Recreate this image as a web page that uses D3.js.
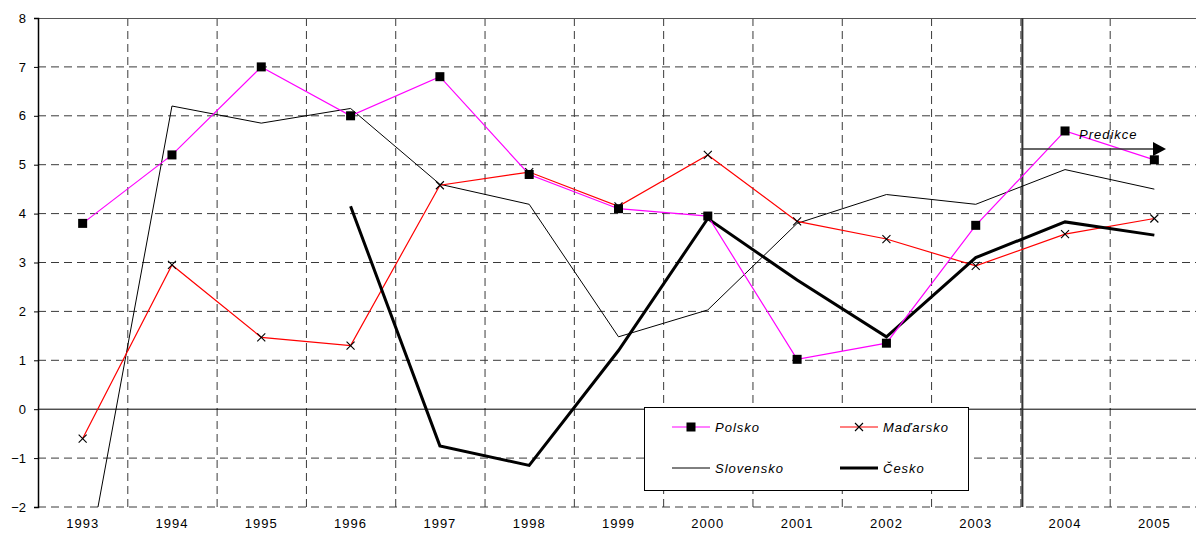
<!DOCTYPE html>
<html>
<head>
<meta charset="utf-8">
<script src="https://cdn.jsdelivr.net/npm/d3@7/dist/d3.min.js"></script>
<style>
  html, body { margin: 0; padding: 0; background: #fff; }
  svg { display: block; font-family: "Liberation Sans", Arial, sans-serif; }
</style>
</head>
<body>
<div id="chart"></div>
<script>
const years = ["1993","1994","1995","1996","1997","1998","1999","2000","2001","2002","2003","2004","2005"];
const yTicks = [-2,-1,0,1,2,3,4,5,6,7,8];
const polsko    = [3.8, 5.2, 7.0, 6.0, 6.8, 4.8, 4.1, 3.95, 1.02, 1.35, 3.76, 5.69, 5.1];
const madarsko  = [-0.6, 2.95, 1.47, 1.3, 4.58, 4.85, 4.15, 5.2, 3.84, 3.48, 2.93, 3.58, 3.9];
const slovensko = [-3.7, 6.2, 5.85, 6.15, 4.6, 4.19, 1.48, 2.03, 3.8, 4.39, 4.19, 4.9, 4.5];
const cesko     = [null, null, null, 4.15, -0.75, -1.15, 1.2, 3.9, 2.64, 1.48, 3.1, 3.83, 3.56];
const legendLabels = ["Polsko", "Maďarsko", "Slovensko", "Česko"];
const predikceLabel = "Predikce";
const predikceStart = "2004";

const W = 1196, H = 536;
const pL = 38, pR = 1199, pT = 18, pB = 507;

const svg = d3.select("#chart").append("svg").attr("width", W).attr("height", H);

const x = d3.scaleBand().domain(years).range([pL, pR]).paddingInner(0).paddingOuter(0);
const y = d3.scaleLinear().domain([-2, 8]).range([pB, pT]);
const cx = d => x(d) + x.bandwidth() / 2;

svg.append("defs").append("clipPath").attr("id", "plot")
  .append("rect").attr("x", pL).attr("y", pT).attr("width", pR - pL).attr("height", pB - pT);

const gridColor = "#3a3a3a";
svg.append("g").selectAll("line").data(yTicks.filter(v => v !== 0 && v !== 8)).join("line")
  .attr("x1", pL).attr("x2", pR)
  .attr("y1", d => y(d)).attr("y2", d => y(d))
  .attr("stroke", gridColor).attr("stroke-width", 1).attr("stroke-dasharray", "8,5");
svg.append("g").selectAll("line").data(years.slice(1)).join("line")
  .attr("x1", d => x(d) + 0.5).attr("x2", d => x(d) + 0.5)
  .attr("y1", pT).attr("y2", pB)
  .attr("stroke", gridColor).attr("stroke-width", 1).attr("stroke-dasharray", "8,5");
svg.append("line").attr("x1", pL).attr("x2", pR).attr("y1", pT + 0.5).attr("y2", pT + 0.5)
  .attr("stroke", "#555").attr("stroke-width", 1);
svg.append("line").attr("x1", pL).attr("x2", pR).attr("y1", y(0)).attr("y2", y(0))
  .attr("stroke", "#000").attr("stroke-width", 1);

const yAxis = d3.axisLeft(y).tickValues(yTicks).tickSize(4).tickPadding(6).tickFormat(d3.format("d"));
const ga = svg.append("g").attr("transform", `translate(${pL},0)`).call(yAxis);
ga.select(".domain").attr("stroke", "#000").attr("stroke-width", 1.5);
ga.selectAll("text").attr("font-size", 13).attr("fill", "#000").attr("font-family", "Liberation Sans, Arial, sans-serif").attr("dx", -2);

const xAxis = d3.axisBottom(x).tickSize(0).tickPadding(12);
const gx = svg.append("g").attr("transform", `translate(0,${pB})`).call(xAxis);
gx.select(".domain").remove();
gx.selectAll("text").attr("font-size", 13).attr("fill", "#000").attr("letter-spacing", 1)
  .attr("font-family", "Liberation Sans, Arial, sans-serif");

svg.append("line").attr("x1", x(predikceStart) + 2).attr("x2", x(predikceStart) + 2)
  .attr("y1", pT).attr("y2", pB).attr("stroke", "#333").attr("stroke-width", 2);

const line = d3.line().defined(d => d.v !== null).x(d => cx(d.yr)).y(d => y(d.v));
const toPts = arr => arr.map((v, i) => ({yr: years[i], v}));

const plot = svg.append("g").attr("clip-path", "url(#plot)");
plot.append("path").datum(toPts(slovensko)).attr("d", line).attr("fill", "none").attr("stroke", "#000").attr("stroke-width", 1);
plot.append("path").datum(toPts(madarsko)).attr("d", line).attr("fill", "none").attr("stroke", "#ff0000").attr("stroke-width", 1.2);
plot.append("path").datum(toPts(cesko)).attr("d", line).attr("fill", "none").attr("stroke", "#000").attr("stroke-width", 3).attr("stroke-linejoin", "miter");
plot.append("path").datum(toPts(polsko)).attr("d", line).attr("fill", "none").attr("stroke", "#ff00ff").attr("stroke-width", 1.2);

const sq = 9;
svg.append("g").selectAll("rect").data(toPts(polsko)).join("rect")
  .attr("x", d => cx(d.yr) - sq / 2).attr("y", d => y(d.v) - sq / 2)
  .attr("width", sq).attr("height", sq).attr("fill", "#000");
const xs = 4;
svg.append("g").selectAll("path").data(toPts(madarsko)).join("path")
  .attr("d", d => { const a = cx(d.yr), b = y(d.v); return `M${a-xs},${b-xs}L${a+xs},${b+xs}M${a-xs},${b+xs}L${a+xs},${b-xs}`; })
  .attr("stroke", "#000").attr("stroke-width", 1.1).attr("fill", "none");

const ay = 149;
const ax1 = x(predikceStart) + 2, ax2 = 1166;
svg.append("line").attr("x1", ax1).attr("x2", ax2 - 10).attr("y1", ay).attr("y2", ay).attr("stroke", "#333").attr("stroke-width", 1.5);
svg.append("path").attr("d", `M${ax2 - 13},${ay - 7}L${ax2},${ay}L${ax2 - 13},${ay + 7}Z`).attr("fill", "#000");
svg.append("text").attr("x", 1079).attr("y", 139).text(predikceLabel)
  .attr("font-size", 13).attr("font-style", "italic").attr("letter-spacing", 1).attr("fill", "#000");

const lg = svg.append("g");
lg.append("rect").attr("x", 644.5).attr("y", 407.5).attr("width", 324).attr("height", 83)
  .attr("fill", "#fff").attr("stroke", "#000").attr("stroke-width", 1);
const items = [
  {label: legendLabels[0], x: 672, y: 427, color: "#ff00ff", w: 1.2, marker: "sq"},
  {label: legendLabels[1], x: 840, y: 427, color: "#ff0000", w: 1.2, marker: "x"},
  {label: legendLabels[2], x: 672, y: 468, color: "#000", w: 1, marker: null},
  {label: legendLabels[3], x: 840, y: 468, color: "#000", w: 3, marker: null}
];
items.forEach(it => {
  lg.append("line").attr("x1", it.x).attr("x2", it.x + 38).attr("y1", it.y).attr("y2", it.y)
    .attr("stroke", it.color).attr("stroke-width", it.w);
  const mx = it.x + 19;
  if (it.marker === "sq") lg.append("rect").attr("x", mx - 4.5).attr("y", it.y - 4.5).attr("width", 9).attr("height", 9).attr("fill", "#000");
  if (it.marker === "x") lg.append("path").attr("d", `M${mx-4},${it.y-4}L${mx+4},${it.y+4}M${mx-4},${it.y+4}L${mx+4},${it.y-4}`).attr("stroke", "#000").attr("stroke-width", 1.1);
  lg.append("text").attr("x", it.x + 43).attr("y", it.y + 5).text(it.label)
    .attr("font-size", 13).attr("font-style", "italic").attr("letter-spacing", 1).attr("fill", "#000");
});
</script>
</body>
</html>
